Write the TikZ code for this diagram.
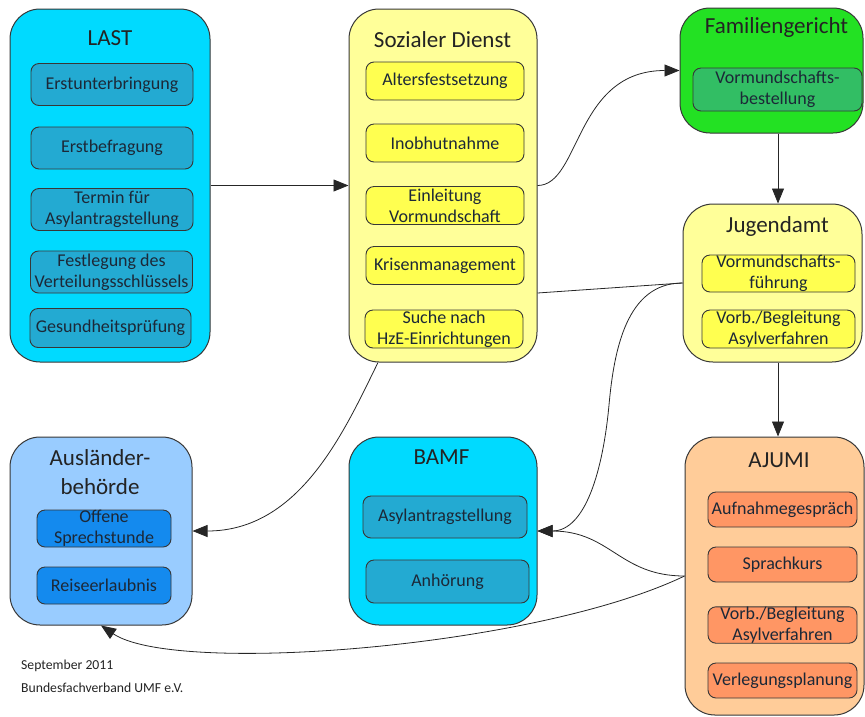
\documentclass[tikz,border=0pt]{standalone}
\usepackage{fontspec}
\setmainfont{Carlito}
\usetikzlibrary{arrows.meta}
\definecolor{cyanO}{RGB}{0,218,255}
\definecolor{cyanI}{RGB}{35,170,210}
\definecolor{yelO}{RGB}{255,255,153}
\definecolor{yelI}{RGB}{255,255,80}
\definecolor{grnO}{RGB}{35,225,35}
\definecolor{grnI}{RGB}{50,190,100}
\definecolor{bluO}{RGB}{153,204,255}
\definecolor{bluI}{RGB}{20,138,238}
\definecolor{orgO}{RGB}{255,204,153}
\definecolor{orgI}{RGB}{255,150,100}
\definecolor{edge}{RGB}{55,55,55}
\definecolor{titletext}{RGB}{35,35,35}
\definecolor{innertext}{RGB}{28,40,55}
\tikzset{
  outerbox/.style={draw=edge, line width=1pt, rounded corners=30pt, inner sep=0pt},
  innerbox/.style={draw=edge, line width=0.9pt, rounded corners=8pt, inner sep=0pt,
    align=center, text=innertext, font=\fontsize{18}{21}\selectfont},
  titletxt/.style={anchor=base, inner sep=0pt, align=center, text=titletext,
    font=\fontsize{23}{29}\selectfont},
  footer/.style={anchor=base west, inner sep=0pt, text=titletext, font=\fontsize{13.7}{23}\selectfont},
  conn/.style={draw=black!85, line width=0.8pt, -{Triangle[length=15pt,width=12pt]}},
  plainline/.style={draw=black!85, line width=0.8pt}
}
\begin{document}
\begin{tikzpicture}[x=1pt,y=-1pt]
\useasboundingbox (0,0) rectangle (865,716);

% ---------- LAST ----------
\node[outerbox, fill=cyanO, minimum width=200pt, minimum height=353pt] (last) at (110,185.5) {};
\node[titletxt] (lastT) at (110,45) {LAST};
\node[innerbox, fill=cyanI, minimum width=162pt, minimum height=42pt] (last1) at (112,84.5) {Erstunterbringung};
\node[innerbox, fill=cyanI, minimum width=162pt, minimum height=42pt] (last2) at (112,148) {Erstbefragung};
\node[innerbox, fill=cyanI, minimum width=162pt, minimum height=42pt] (last3) at (112,209.5) {Termin für\\Asylantragstellung};
\node[innerbox, fill=cyanI, minimum width=162pt, minimum height=42pt] (last4) at (111.5,272) {Festlegung des\\Verteilungsschlüssels};
\node[innerbox, fill=cyanI, minimum width=161pt, minimum height=39pt] (last5) at (110.5,328) {Gesundheitsprüfung};

% ---------- Sozialer Dienst ----------
\node[outerbox, fill=yelO, minimum width=188pt, minimum height=353pt] (sd) at (443,185.5) {};
\node[titletxt] (sdT) at (442.5,47) {Sozialer Dienst};
\node[innerbox, fill=yelI, minimum width=158pt, minimum height=38pt] (sd1) at (445,81) {Altersfestsetzung};
\node[innerbox, fill=yelI, minimum width=158pt, minimum height=38pt] (sd2) at (445,143) {Inobhutnahme};
\node[innerbox, fill=yelI, minimum width=158pt, minimum height=38pt] (sd3) at (445,205.5) {Einleitung\\Vormundschaft};
\node[innerbox, fill=yelI, minimum width=158pt, minimum height=38pt] (sd4) at (445,265.5) {Krisenmanagement};
\node[innerbox, fill=yelI, minimum width=158pt, minimum height=38pt] (sd5) at (444,329) {Suche nach\\HzE-Einrichtungen};

% ---------- Familiengericht ----------
\node[outerbox, fill=grnO, minimum width=183pt, minimum height=125pt] (fg) at (771.5,70.5) {};
\node[titletxt] (fgT) at (776.5,33) {Familiengericht};
\node[innerbox, fill=grnI, minimum width=169pt, minimum height=43pt] (fg1) at (777.5,89.5) {Vormundschafts-\\bestellung};

% ---------- Jugendamt ----------
\node[outerbox, fill=yelO, minimum width=179pt, minimum height=158pt] (ja) at (772.5,283) {};
\node[titletxt] (jaT) at (777.5,232) {Jugendamt};
\node[innerbox, fill=yelI, minimum width=153pt, minimum height=37pt] (ja1) at (778.5,273.5) {Vormundschafts-\\führung};
\node[innerbox, fill=yelI, minimum width=153pt, minimum height=38pt] (ja2) at (778.5,329) {Vorb./Begleitung\\Asylverfahren};

% ---------- Ausländerbehörde ----------
\node[outerbox, fill=bluO, minimum width=182pt, minimum height=188pt] (ab) at (101,531) {};
\node[titletxt] (abT) at (100,494) {Ausländer-\\behörde};
\node[innerbox, fill=bluI, minimum width=134pt, minimum height=37pt] (ab1) at (104,528.5) {Offene\\Sprechstunde};
\node[innerbox, fill=bluI, minimum width=134pt, minimum height=37pt] (ab2) at (104,585.5) {Reiseerlaubnis};

% ---------- BAMF ----------
\node[outerbox, fill=cyanO, minimum width=188pt, minimum height=188pt] (bamf) at (443,531) {};
\node[titletxt] (bamfT) at (441.5,464) {BAMF};
\node[innerbox, fill=cyanI, minimum width=164pt, minimum height=42pt] (bamf1) at (445,517) {Asylantragstellung};
\node[innerbox, fill=cyanI, minimum width=163pt, minimum height=43pt] (bamf2) at (447.5,581.5) {Anhörung};

% ---------- AJUMI ----------
\node[outerbox, fill=orgO, minimum width=179pt, minimum height=278pt] (ajumi) at (774.5,576) {};
\node[titletxt] (ajumiT) at (779,467) {AJUMI};
\node[innerbox, fill=orgI, minimum width=149pt, minimum height=35pt] (aj1) at (782.5,509.5) {Aufnahmegespräch};
\node[innerbox, fill=orgI, minimum width=149pt, minimum height=35pt] (aj2) at (782.5,564.5) {Sprachkurs};
\node[innerbox, fill=orgI, minimum width=149pt, minimum height=36pt] (aj3) at (782.5,625) {Vorb./Begleitung\\Asylverfahren};
\node[innerbox, fill=orgI, minimum width=149pt, minimum height=35pt] (aj4) at (782.5,680.5) {Verlegungsplanung};

% ---------- footer ----------
\node[footer] (date) at (21,669) {September 2011};
\node[footer] (org) at (21,692) {Bundesfachverband UMF e.V.};

% ---------- connectors ----------
\draw[conn] (last.east) -- (sd.west);
\draw[conn] (sd.east) .. controls +(43,0) and +(-105,0) .. (fg.west);
\draw[conn] ([xshift=6.5pt]fg.south) -- ([xshift=6.5pt]fg.south |- ja.north);
\draw[conn] ([xshift=5.5pt]ja.south) -- ([xshift=5.5pt]ja.south |- ajumi.north);
\draw[plainline] ([yshift=-107.5pt]sd.east) -- (ja.west);
\coordinate (jb) at (609,405);
\draw[conn] (ja.west) .. controls +(-56,0) and +(5,-55) .. (jb)
                      .. controls +(-6,65) and +(48,0) .. (bamf.east);
\draw[conn] (ajumi.west) .. controls +(-65,0) and +(73,0) .. (bamf.east);
\draw[conn] (ajumi.west) .. controls +(-150,72) and +(74,50) .. (ab.south);
\draw[conn] ([xshift=-65pt]sd.south) .. controls +(-33,67) and +(108,0) .. (ab.east);
\end{tikzpicture}
\end{document}
